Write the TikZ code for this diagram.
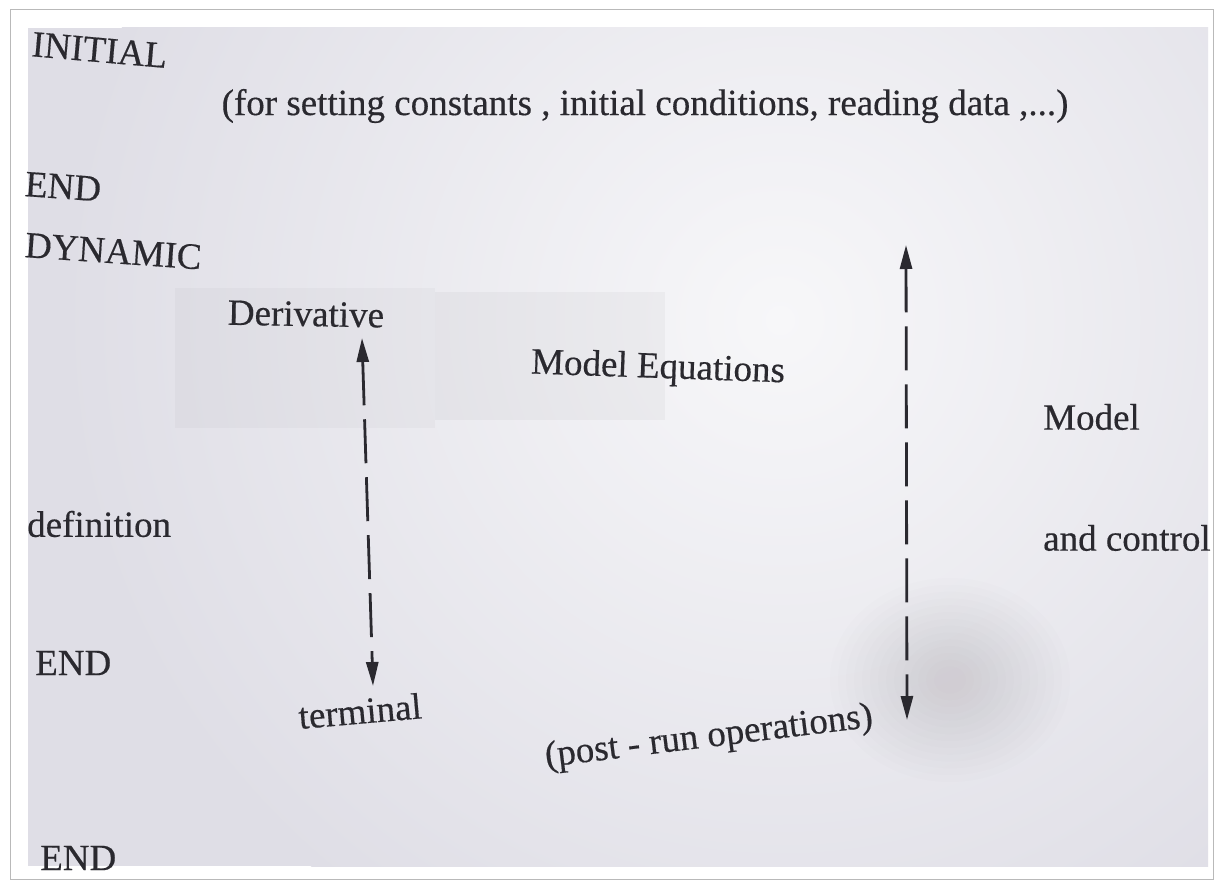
\documentclass[tikz,border=0pt]{standalone}
\usepackage{fontspec}
\setmainfont[FakeBold=0.4]{Liberation Serif}
\usetikzlibrary{arrows.meta}
\definecolor{ink}{HTML}{2A292F}
\definecolor{paper}{HTML}{F7F7F9}
\definecolor{paperedge}{HTML}{DFDEE6}
\begin{document}
\begin{tikzpicture}[x=1pt,y=-1pt,
  lbl/.style={text=ink,inner sep=0pt,font=\fontsize{37}{44}\selectfont},
  flow/.style={draw=ink,line width=2.8pt,dash pattern=on 44pt off 14pt,
    {Triangle[length=24pt,width=12pt]}-{Triangle[length=24pt,width=12pt]}}]
\useasboundingbox (0,0) rectangle (1223,888);
% page frame
\fill[white] (0,0) rectangle (1223,888);
\draw[gray!55,line width=1pt] (10,10) rectangle (1213,879);
% sheet of paper
\begin{scope}
  \clip (28,28) rectangle (1208,866);
  \fill[paperedge] (28,28) rectangle (1208,866);
  \shade[inner color=paper,outer color=paperedge] (780,320) circle (720);
  \fill[black,opacity=0.025] (175,288) rectangle (435,428);
  \fill[black,opacity=0.03] (435,292) rectangle (665,420);
  % soft shadow at the lower right
  \foreach \r in {120,112,...,16} {
    \fill[violet!25!gray,opacity=0.012] (950,680) ellipse ({\r} and {\r*0.85});
  }
\end{scope}
% block headings
\node[lbl,anchor=west,rotate=-5] (initial) at (32,44) {INITIAL};
\node[lbl,anchor=center] (initdesc) at (645,106) {(for setting constants , initial conditions, reading data ,...)};
\node[lbl,anchor=west,rotate=-4] (end1) at (25,184) {END};
\node[lbl,anchor=west,rotate=-4] (dynamic) at (25,245) {DYNAMIC};
\node[lbl,anchor=center,rotate=-1] (deriv) at (306,314) {Derivative};
\node[lbl,anchor=center,rotate=-2] (modeleq) at (658,369) {Model Equations};
\node[lbl,anchor=west] (model) at (1043,417) {Model};
\node[lbl,anchor=west] (defn) at (27,524) {definition};
\node[lbl,anchor=west] (control) at (1043,538) {and control};
\node[lbl,anchor=west] (end2) at (35,663) {END};
\node[lbl,anchor=center,rotate=5] (terminal) at (360,711) {terminal};
\node[lbl,anchor=center,rotate=7] (postrun) at (709,738) {(post - run operations)};
\node[lbl,anchor=west] (end3) at (40,858) {END};
% scope arrows
\coordinate (dtop) at (362,338);
\coordinate (dbot) at (373,686);
\coordinate (mtop) at (906,245);
\coordinate (mbot) at (907,720);
\draw[flow] (dtop) -- (dbot);
\draw[flow] (mtop) -- (mbot);
\end{tikzpicture}
\end{document}
